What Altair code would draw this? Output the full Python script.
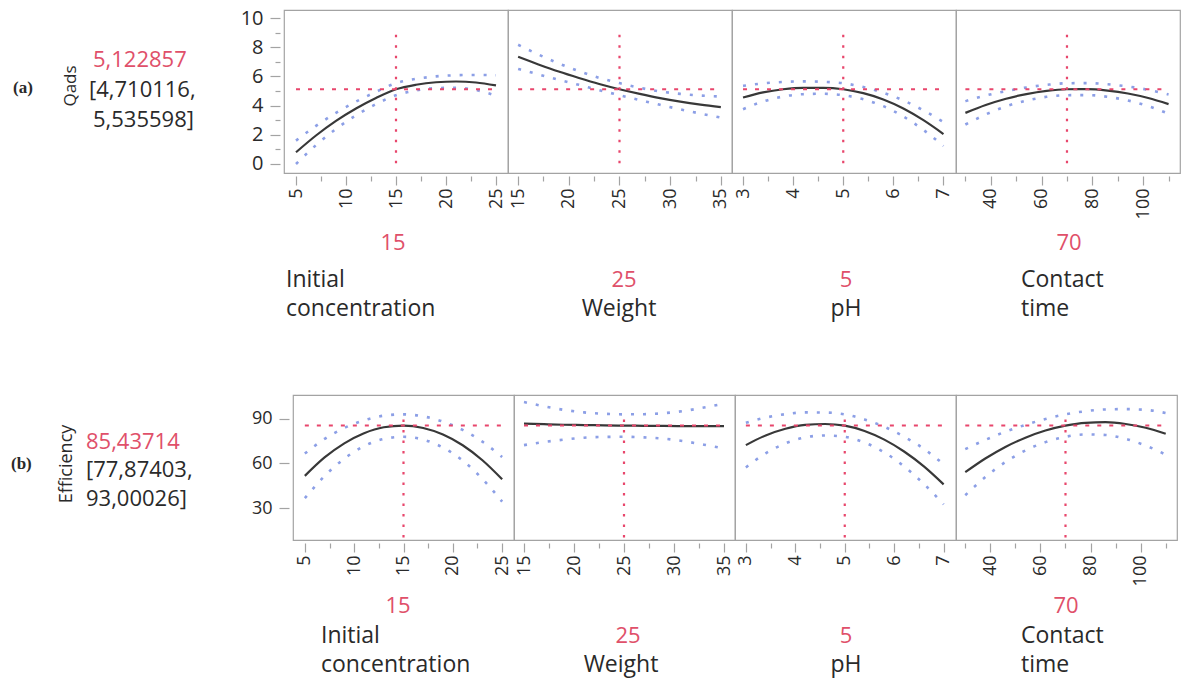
import altair as alt
import pandas as pd

FONT = "Open Sans"
RED_TEXT = "#e0506a"
RED_LINE = "#e8466c"
BLUE = "#8c9fe6"
CURVE = "#383838"
FRAME = "#a3a3a3"
TXT = "#2a2a2a"

# ---------------- data ----------------
settings = [15, 25, 5, 70]
setting_labels = ["15", "25", "5", "70"]
factor_lines = [["Initial", "concentration"], ["Weight"], ["pH"], ["Contact", "time"]]

ic_x = [5, 7, 9, 11, 13, 15, 17, 19, 21, 23, 25]
w_x = [15, 17, 19, 21, 23, 25, 27, 29, 31, 33, 35]
ph_x = [3, 3.4, 3.8, 4.2, 4.6, 5, 5.4, 5.8, 6.2, 6.6, 7]
ct_x = [30, 38, 46, 54, 62, 70, 78, 86, 94, 102, 110]

# Qads (a)
q_ic = [0.80, 1.95, 2.95, 3.80, 4.52, 5.12, 5.43, 5.60, 5.65, 5.58, 5.38]
q_ic_lo = [0.00, 1.29, 2.40, 3.33, 4.10, 4.71, 5.03, 5.20, 5.22, 5.06, 4.68]
q_ic_hi = [1.60, 2.61, 3.50, 4.27, 4.94, 5.54, 5.83, 6.00, 6.08, 6.10, 6.08]
q_w = [7.34, 6.82, 6.33, 5.89, 5.48, 5.12, 4.80, 4.51, 4.27, 4.07, 3.90]
q_w_lo = [6.51, 6.14, 5.77, 5.42, 5.06, 4.71, 4.38, 4.05, 3.74, 3.45, 3.18]
q_w_hi = [8.17, 7.50, 6.89, 6.36, 5.90, 5.54, 5.22, 4.97, 4.80, 4.69, 4.62]
q_ph = [4.55, 4.90, 5.12, 5.22, 5.22, 5.12, 4.85, 4.42, 3.80, 3.00, 2.05]
q_ph_lo = [3.75, 4.28, 4.62, 4.78, 4.81, 4.71, 4.43, 3.96, 3.25, 2.33, 1.23]
q_ph_hi = [5.35, 5.52, 5.62, 5.66, 5.63, 5.53, 5.27, 4.88, 4.35, 3.67, 2.87]
q_ct = [3.50, 4.04, 4.47, 4.79, 5.01, 5.12, 5.13, 5.03, 4.83, 4.52, 4.10]
q_ct_lo = [2.70, 3.39, 3.95, 4.34, 4.60, 4.71, 4.72, 4.60, 4.35, 3.96, 3.44]
q_ct_hi = [4.30, 4.69, 4.99, 5.24, 5.42, 5.53, 5.54, 5.46, 5.31, 5.08, 4.76]

# Efficiency (b)
e_ic = [51.6, 64.0, 73.5, 80.3, 84.3, 85.4, 83.8, 79.4, 72.2, 62.1, 49.3]
e_ic_lo = [36.6, 51.5, 63.2, 71.6, 76.5, 77.9, 76.0, 70.7, 61.9, 49.6, 34.3]
e_ic_hi = [66.6, 76.5, 83.8, 89.0, 92.1, 93.0, 91.6, 88.1, 82.5, 74.6, 64.3]
e_w = [86.8, 86.4, 86.0, 85.8, 85.6, 85.4, 85.3, 85.2, 85.1, 85.1, 85.1]
e_w_lo = [72.3, 74.4, 76.0, 77.3, 77.8, 77.9, 77.5, 76.6, 74.9, 72.6, 70.1]
e_w_hi = [101.3, 98.4, 96.0, 94.3, 93.4, 93.0, 93.1, 93.8, 95.3, 97.6, 100.1]
e_ph = [72.3, 78.8, 83.3, 85.9, 86.5, 85.4, 81.8, 76.0, 68.0, 58.0, 45.9]
e_ph_lo = [57.3, 66.8, 73.5, 77.5, 78.8, 77.9, 74.0, 67.4, 58.0, 46.2, 32.4]
e_ph_hi = [87.3, 90.8, 93.1, 94.3, 94.2, 93.0, 89.6, 84.6, 78.0, 69.8, 59.4]
e_ct = [54.1, 63.3, 71.1, 77.3, 82.1, 85.4, 87.3, 87.7, 86.5, 84.0, 79.9]
e_ct_lo = [38.6, 50.8, 60.9, 68.7, 74.3, 77.9, 79.5, 79.1, 76.5, 72.0, 65.9]
e_ct_hi = [69.6, 75.8, 81.3, 85.9, 89.9, 93.0, 95.1, 96.3, 96.5, 96.0, 93.9]

x_major = [[5, 10, 15, 20, 25], [15, 20, 25, 30, 35], [3, 4, 5, 6, 7], [40, 60, 80, 100]]
x_minor = [[7.5, 12.5, 17.5, 22.5], [17.5, 22.5, 27.5, 32.5], [3.5, 4.5, 5.5, 6.5], [30, 50, 70, 90, 110]]
x_domains = [[3.8, 26.2], [14.0, 36.1], [2.78, 7.25], [26.3, 114.5]]

# ---------------- helpers ----------------

def text_layer(s, x, y, color=TXT, align="left", size=22, angle=0, font=FONT, weight="normal"):
    return alt.Chart(pd.DataFrame({"t": [s]})).mark_text(
        align=align, baseline="middle", color=color, fontSize=size, font=font,
        angle=angle, fontWeight=weight
    ).encode(text="t:N", x=alt.value(x), y=alt.value(y))


def axis(values, orient, labels, size, label_size, angle=None, offset=3, pad=3):
    kw = dict(
        values=values, orient=orient, labels=labels, labelOverlap=False, labelFlush=False,
        tickSize=size, domain=False, grid=False, offset=offset, tickColor=FRAME, tickWidth=1.2,
        labelFont=FONT, labelFontSize=label_size, labelColor=TXT, labelPadding=pad,
    )
    if angle is not None:
        kw["labelAngle"] = angle
    return alt.Axis(**kw)


def panel(k, xs, pred, lo, hi, row):
    df = pd.DataFrame({"x": xs, "pred": pred, "lo": lo, "hi": hi})
    xscale = alt.Scale(domain=x_domains[k], nice=False, zero=False)
    yscale = alt.Scale(domain=row["ydomain"], nice=False, zero=False)
    x_maj = axis(x_major[k], "bottom", True, 9, 18, 270)
    x_min = axis(x_minor[k], "bottom", False, 5, 18, 270)
    if k == 0:
        y_maj = axis(row["ymajor"], "left", True, 10, row["ylabelsize"], offset=4, pad=7)
        y_min = axis(row["yminor"], "left", False, 5, row["ylabelsize"], offset=4) if row["yminor"] else None
    else:
        y_maj = None
        y_min = None
    base = alt.Chart(df)
    lo_line = base.mark_line(color=BLUE, strokeWidth=2.6, strokeDash=[3, 9], strokeCap="butt",
                             interpolate="monotone").encode(
        x=alt.X("x:Q", scale=xscale, axis=x_maj, title=None),
        y=alt.Y("lo:Q", scale=yscale, axis=y_maj, title=None))
    hi_line = base.mark_line(color=BLUE, strokeWidth=2.6, strokeDash=[3, 9], strokeCap="butt",
                             interpolate="monotone").encode(
        x=alt.X("x:Q", scale=xscale, axis=x_min, title=None),
        y=alt.Y("hi:Q", scale=yscale, axis=y_min, title=None))
    p_line = base.mark_line(color=CURVE, strokeWidth=2.2, interpolate="monotone").encode(
        x=alt.X("x:Q", scale=xscale, axis=None), y=alt.Y("pred:Q", scale=yscale, axis=None))

    hdf = pd.DataFrame({"x": [xs[0]], "x2": [xs[-1]], "y": [row["cur"]]})
    hrule = alt.Chart(hdf).mark_rule(color=RED_LINE, strokeWidth=2, strokeDash=[4, 8]).encode(
        x=alt.X("x:Q", scale=xscale, axis=None), x2="x2:Q",
        y=alt.Y("y:Q", scale=yscale, axis=None))
    vdf = pd.DataFrame({"x": [settings[k]], "y": [row["vrange"][0]], "y2": [row["vrange"][1]]})
    vrule = alt.Chart(vdf).mark_rule(color=RED_LINE, strokeWidth=2.2, strokeDash=[2.5, 8]).encode(
        x=alt.X("x:Q", scale=xscale, axis=None),
        y=alt.Y("y:Q", scale=yscale, axis=None), y2="y2:Q")

    layers = [lo_line, hi_line, p_line, hrule, vrule]
    lab = row["labels"][k]
    layers.append(text_layer(setting_labels[k], lab[0][0], lab[0][1], color=RED_TEXT, align="center"))
    for (s, (lx, ly, la)) in zip(factor_lines[k], lab[1]):
        layers.append(text_layer(s, lx, ly, align=la, size=23))
    if k == 0:
        for spec in row["left"]:
            layers.append(text_layer(*spec[:3], **spec[3]))
    return alt.layer(*layers).resolve_axis(x="independent", y="independent").properties(
        width=row["width"], height=row["height"])


top = {
    "width": 224, "height": 163, "ydomain": [-0.62, 10.55],
    "ymajor": [0, 2, 4, 6, 8, 10], "yminor": [1, 3, 5, 7, 9], "ylabelsize": 20,
    "cur": 5.122857, "vrange": [0.05, 9.1],
    "labels": [
        [(109, 233), [(2, 270, "left"), (2, 299, "left")]],
        [(116, 270), [(111, 299, "center")]],
        [(114, 270), [(114, 299, "center")]],
        [(113, 233), [(65, 270, "left"), (65, 299, "left")]],
    ],
    "left": [
        ("(a)", -271, 78, {"font": "Liberation Serif", "weight": "bold", "size": 17}),
        ("Qads", -213, 76, {"angle": 270, "align": "center", "size": 17}),
        ("5,122857", -191, 50, {"color": RED_TEXT}),
        ("[4,710116,", -195, 80, {}),
        ("5,535598]", -191, 110, {}),
    ],
}
bottom = {
    "width": 221, "height": 145, "ydomain": [8.5, 106],
    "ymajor": [30, 60, 90], "yminor": None, "ylabelsize": 18,
    "cur": 85.43714, "vrange": [10.2, 93.5],
    "labels": [
        [(105, 211), [(28, 241, "left"), (28, 270, "left")]],
        [(114, 241), [(107, 270, "center")]],
        [(111, 241), [(111, 270, "center")]],
        [(110, 211), [(65, 241, "left"), (65, 270, "left")]],
    ],
    "left": [
        ("(b)", -282, 69, {"font": "Liberation Serif", "weight": "bold", "size": 17}),
        ("Efficiency", -226, 69, {"angle": 270, "align": "center", "size": 18}),
        ("85,43714", -207, 47, {"color": RED_TEXT}),
        ("[77,87403,", -207, 75, {}),
        ("93,00026]", -207, 104, {}),
    ],
}

spacer = alt.Chart(pd.DataFrame({"a": [0]})).mark_point(opacity=0).encode(
    x=alt.value(0), y=alt.value(0)
).properties(width=9, height=145, view=alt.ViewBackground(stroke="transparent"))

row_a = alt.hconcat(
    panel(0, ic_x, q_ic, q_ic_lo, q_ic_hi, top),
    panel(1, w_x, q_w, q_w_lo, q_w_hi, top),
    panel(2, ph_x, q_ph, q_ph_lo, q_ph_hi, top),
    panel(3, ct_x, q_ct, q_ct_lo, q_ct_hi, top),
    spacing=0, bounds="flush",
).resolve_scale(x="independent", y="independent")

row_b = alt.hconcat(
    spacer,
    panel(0, ic_x, e_ic, e_ic_lo, e_ic_hi, bottom),
    panel(1, w_x, e_w, e_w_lo, e_w_hi, bottom),
    panel(2, ph_x, e_ph, e_ph_lo, e_ph_hi, bottom),
    panel(3, ct_x, e_ct, e_ct_lo, e_ct_hi, bottom),
    spacing=0, bounds="flush",
).resolve_scale(x="independent", y="independent")

chart = alt.vconcat(row_a, row_b, spacing=69).resolve_scale(x="independent", y="independent").properties(
    padding={"left": 10, "top": 7, "right": 0, "bottom": 0},
    background="white",
).configure_view(stroke=FRAME, strokeWidth=1.2)

chart.save("out.html", embed_options={"renderer": "svg", "actions": False})
